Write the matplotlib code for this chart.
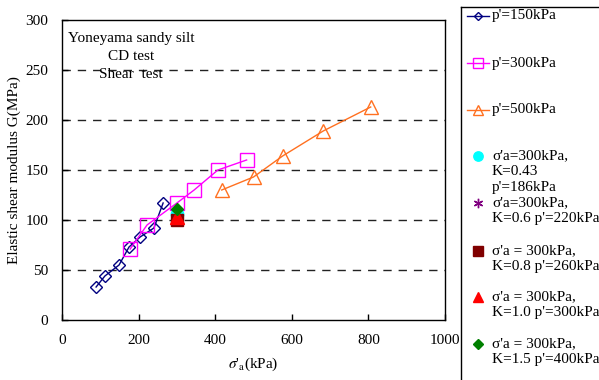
import matplotlib
matplotlib.use("Agg")
import matplotlib.pyplot as plt

plt.rcParams['font.family'] = ['Liberation Serif', 'DejaVu Serif']
plt.rcParams['mathtext.fontset'] = 'stix'
plt.rcParams['font.size'] = 11

# drained shear tests at constant mean stress
p150_sa = [89, 112, 149, 175, 204, 240, 264]
p150_g = [33, 44, 55, 73, 83, 92, 117]
p300_sa = [178, 222, 300, 345, 407, 482]
p300_g = [71, 95, 117, 130, 150, 160]
p500_sa = [417, 500, 576, 682, 806]
p500_g = [130, 143, 164, 189, 213]

# single points at sigma'a = 300 kPa, various K
k_sa = [300, 300, 300, 300, 300]
k_g = [106, 103, 100, 103, 111]
k_labels = ["σ'a=300kPa,\nK=0.43\np'=186kPa",
            "σ'a=300kPa,\nK=0.6 p'=220kPa",
            "σ'a = 300kPa,\nK=0.8 p'=260kPa",
            "σ'a = 300kPa,\nK=1.0 p'=300kPa",
            "σ'a = 300kPa,\nK=1.5 p'=400kPa"]

series_labels = ["p'=150kPa", "p'=300kPa", "p'=500kPa"]

line_styles = [dict(color='#000080', marker='D', ms=6, mfc='none', mew=1.0, lw=1.0),
               dict(color='#FF00FF', marker='s', ms=10, mfc='none', mew=1.0, lw=1.0),
               dict(color='#FF7020', marker='^', ms=10, mfc='none', mew=1.0, lw=1.0)]
k_styles = [dict(color='#00FFFF', marker='o', ms=9),
            dict(color='#800080', marker=(6, 2, 0), ms=9, mew=1.0),
            dict(color='#800000', marker='s', ms=9),
            dict(color='#FF0000', marker='^', ms=10),
            dict(color='#008000', marker='D', ms=6.5)]

fig = plt.figure(figsize=(5.99, 3.8), dpi=100)
ax = fig.add_axes([62/599, 60/380, 383/599, 300/380])

for xs, ys, st in zip([p150_sa, p300_sa, p500_sa], [p150_g, p300_g, p500_g], line_styles):
    ax.plot(xs, ys, **st, zorder=3)
for x, y, st in zip(k_sa, k_g, k_styles):
    ax.plot([x], [y], ls='none', **st, zorder=4)

ax.set_xlim(0, 1000)
ax.set_ylim(0, 300)
ax.set_xticks(range(0, 1001, 200))
ax.set_yticks(range(0, 301, 50))
for yv in range(50, 300, 50):
    ax.axhline(yv, color='#222222', lw=1.0, ls=(0, (6, 5)), zorder=1)
ax.tick_params(direction='in', length=4, width=1)
ax.tick_params(axis='x', pad=10)
ax.tick_params(axis='y', pad=10)
for s in ax.spines.values():
    s.set_linewidth(1.0)

ax.set_xlabel(r"$\sigma$'$_{\rm a}$(kPa)", labelpad=6)
ax.set_ylabel("Elastic shear modulus G(MPa)", labelpad=3)

ax.text(180, 288, "Yoneyama sandy silt\nCD test\nShear  test", ha='center', va='top',
        linespacing=1.48)

# legend panel drawn in pixel coordinates
lax = fig.add_axes([461/599, 0, 138/599, 373/380])
lax.set_xlim(461, 599)
lax.set_ylim(380, 7)
lax.set_xticks([])
lax.set_yticks([])
lax.patch.set_alpha(0)
lax.spines['right'].set_visible(False)
lax.spines['bottom'].set_visible(False)
for s in ('left', 'top'):
    lax.spines[s].set_linewidth(1.0)

row_y = [16, 63, 110]
for y, lab, st in zip(row_y, series_labels, line_styles):
    lst = dict(st)
    lst['ms'] = st['ms'] * 0.7
    lax.plot([467, 478, 489], [y, y, y], markevery=[1], **lst, clip_on=False)
    lax.text(492, y, lab, va='center', ha='left')

k_row_y = [156, 203, 251, 297, 344]
for y, lab, st in zip(k_row_y, k_labels, k_styles):
    kst = dict(st)
    kst['ms'] = st['ms'] * 0.75
    lax.plot([478], [y], ls='none', **kst, clip_on=False)
    lax.text(492, y - 7, lab, va='top', ha='left', linespacing=1.3)

fig.savefig("out.png", dpi=100)
